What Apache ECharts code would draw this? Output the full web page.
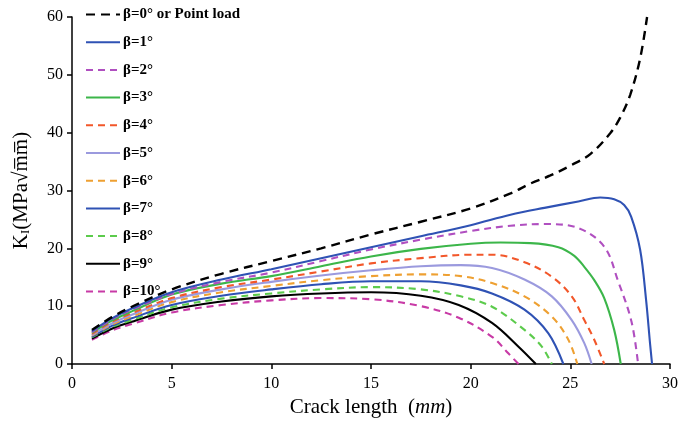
<!DOCTYPE html>
<html>
<head>
    <meta charset="UTF-8">
    <title></title>
    <script src="https://cdn.jsdelivr.net/npm/echarts@6/dist/echarts.min.js"></script>
</head>
<body style="margin:0">
<div id="main" style="width: 681px;height:425px;"></div>
<script type="text/javascript">
    // crack length (mm) and K_I values, one pair of arrays per angle
    var names = ['β=0° or Point load', 'β=1°', 'β=2°', 'β=3°', 'β=4°', 'β=5°', 'β=6°', 'β=7°', 'β=8°', 'β=9°', 'β=10°'];

    var x0 = [1, 2, 3, 5, 7.5, 10, 12.5, 15, 17.5, 20, 22, 23, 24, 25, 26, 27, 27.5, 28, 28.5, 28.85];
    var k0 = [5.9, 8.1, 9.9, 12.9, 15.6, 17.8, 20.0, 22.4, 24.6, 26.9, 29.5, 31.2, 32.6, 34.3, 36.3, 39.9, 42.6, 46.5, 52.8, 60];

    var x1 = [1, 2, 3, 5, 7.5, 10, 12.5, 15, 17.5, 20, 22, 23.7, 25.4, 26.5, 27.2, 27.7, 28.05, 28.5, 28.8, 29.0, 29.1];
    var k1 = [5.7, 7.9, 9.6, 12.4, 14.6, 16.4, 18.3, 20.2, 22.1, 24.0, 25.8, 27.0, 28.1, 28.8, 28.5, 27.5, 25.5, 19.8, 11.1, 3.5, 0];

    var x2 = [1, 2, 3, 5, 7.5, 10, 12.5, 15, 17.5, 20, 22, 23.7, 25.4, 26.7, 27.4, 28.07, 28.4];
    var k2 = [5.5, 7.7, 9.4, 12.1, 14.2, 15.8, 17.8, 19.8, 21.5, 23.0, 23.9, 24.2, 23.5, 20.3, 14.3, 7.3, 0];

    var x3 = [1, 2, 3, 5, 7.5, 10, 12.5, 15, 17.5, 20, 21.5, 23, 24.4, 25.2, 25.7, 26.2, 26.7, 27.2, 27.53];
    var k3 = [5.4, 7.5, 9.1, 12.0, 13.9, 15.2, 16.9, 18.6, 19.9, 20.8, 21.0, 20.9, 20.2, 18.7, 16.8, 14.5, 11.4, 5.9, 0];

    var x4 = [1, 2, 3, 5, 7.5, 10, 12.5, 15, 17.5, 20, 21.1, 22.7, 24.07, 25.07, 25.7, 26.2, 26.7];
    var k4 = [5.2, 7.3, 8.8, 11.4, 13.3, 14.6, 16.0, 17.4, 18.3, 18.9, 18.9, 17.6, 15.1, 11.7, 7.6, 4.2, 0];

    var x5 = [1, 2, 3, 5, 7.5, 10, 12.5, 15, 17.5, 19.5, 21.07, 22.7, 24.07, 25.07, 25.7, 26.07];
    var k5 = [5.0, 7.0, 8.5, 11.1, 12.9, 14.2, 15.3, 16.2, 16.9, 17.1, 16.6, 14.6, 11.7, 7.6, 3.6, 0];

    var x6 = [1, 2, 3, 5, 7.5, 10, 12.5, 15, 17.5, 19.5, 21.07, 22.7, 24.07, 24.9, 25.35];
    var k6 = [4.9, 6.8, 8.2, 10.7, 12.4, 13.5, 14.5, 15.2, 15.5, 15.2, 14.0, 11.7, 8.2, 4.2, 0];

    var x7 = [1, 2, 3, 5, 7.5, 10, 12.5, 15, 17.5, 19.5, 21.07, 22.7, 23.9, 24.65];
    var k7 = [4.7, 6.6, 7.9, 10.2, 11.8, 12.9, 13.8, 14.3, 14.3, 13.6, 12.2, 9.4, 5.3, 0];

    var x8 = [1, 2, 3, 5, 7.5, 10, 12.5, 15, 17.5, 19.5, 21.07, 22.7, 23.57, 24.07];
    var k8 = [4.6, 6.4, 7.6, 9.8, 11.3, 12.2, 12.9, 13.3, 12.9, 11.7, 9.9, 5.9, 3.0, 0];

    var x9 = [1, 2, 3, 5, 7.5, 10, 12.5, 15, 17.5, 19.4, 21.07, 22.4, 23.27];
    var k9 = [4.4, 6.1, 7.3, 9.4, 10.8, 11.7, 12.2, 12.4, 11.8, 10.2, 7.1, 3.0, 0];

    var x10 = [1, 2, 3, 5, 7.5, 10, 12.5, 15, 17.5, 19.4, 21.07, 21.9, 22.4];
    var k10 = [4.2, 5.8, 6.9, 8.9, 10.2, 11.0, 11.4, 11.2, 10.0, 8.0, 4.7, 1.8, 0];

    var xs = [x0, x1, x2, x3, x4, x5, x6, x7, x8, x9, x10];
    var ks = [k0, k1, k2, k3, k4, k5, k6, k7, k8, k9, k10];

    var colors = ['#000000', '#2f52b4', '#b04fc0', '#3cb64a', '#f2572a', '#9b9ade', '#eea032', '#2f52b4', '#5ccb4c', '#000000', '#c83aa6'];
    var dashed = [true, false, true, false, true, false, true, false, true, false, true];

    var myChart = echarts.init(document.getElementById('main'));

    var series = [];
    for (var i = 0; i < names.length; i++) {
        var pts = [];
        for (var j = 0; j < xs[i].length; j++) {
            pts.push([xs[i][j], ks[i][j]]);
        }
        series.push({
            name: names[i],
            type: 'line',
            symbol: 'none',
            smooth: 0.35,
            data: pts,
            z: 20 - i,
            lineStyle: {
                color: colors[i],
                width: i == 0 ? 2.4 : 2.1,
                type: dashed[i] ? (i == 0 ? [9, 6] : [7, 5]) : 'solid'
            },
            itemStyle: {color: colors[i]}
        });
    }

    var serif = 'Liberation Serif';

    option = {
        animation: false,
        backgroundColor: '#fff',
        grid: {left: 72, right: 9, top: 17, bottom: 61},
        legend: {
            orient: 'vertical',
            left: 80,
            top: 2,
            itemWidth: 34,
            itemHeight: 14,
            itemGap: 12.7,
            itemStyle: {opacity: 0},
            textStyle: {fontFamily: serif, fontWeight: 'bold', fontSize: 15, color: '#000', padding: [0, 0, 0, -2]},
            data: names
        },
        xAxis: {
            type: 'value',
            min: 0,
            max: 30,
            interval: 5,
            name: '{n|Crack length  (}{i|mm}{n|)}',
            nameLocation: 'middle',
            nameGap: 33,
            nameTextStyle: {
                rich: {
                    n: {fontFamily: serif, fontSize: 21, color: '#000'},
                    i: {fontFamily: serif, fontSize: 21, fontStyle: 'italic', color: '#000'}
                }
            },
            axisLine: {lineStyle: {color: '#000', width: 1.5}},
            axisTick: {length: 5, lineStyle: {color: '#000', width: 1.5}},
            axisLabel: {fontFamily: serif, fontSize: 16, color: '#000', margin: 12},
            splitLine: {show: false}
        },
        yAxis: {
            type: 'value',
            min: 0,
            max: 60,
            interval: 10,
            name: '{k|K}{s|I}{k|(MPa√}{o|m̅m̅}{k|)}',
            nameLocation: 'middle',
            nameRotate: 90,
            nameGap: 40,
            nameTextStyle: {
                rich: {
                    k: {fontFamily: serif, fontSize: 21, color: '#000'},
                    s: {fontFamily: serif, fontSize: 13, color: '#000', padding: [8, 0, 0, 0]},
                    o: {fontFamily: serif, fontSize: 21, color: '#000'}
                }
            },
            axisLine: {show: true, lineStyle: {color: '#000', width: 1.5}},
            axisTick: {show: true, length: 5, lineStyle: {color: '#000', width: 1.5}},
            axisLabel: {fontFamily: serif, fontSize: 16, color: '#000', margin: 9},
            splitLine: {show: false}
        },
        series: series
    };
    myChart.setOption(option);
</script>
</body>
</html>
